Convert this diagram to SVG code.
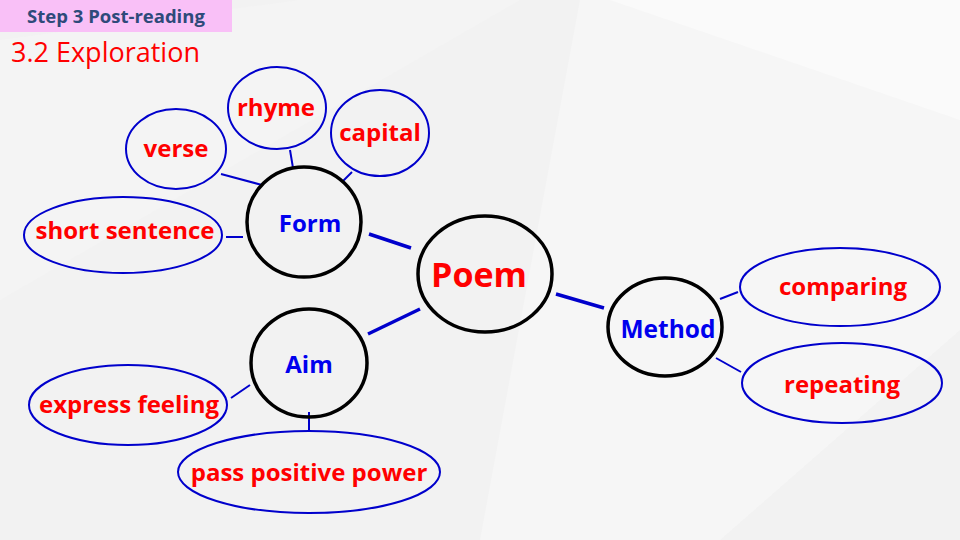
<svg xmlns="http://www.w3.org/2000/svg" width="960" height="540" viewBox="0 0 960 540">
<style>
.bg{fill:#f2f2f2}
.hub{fill:none;stroke:#000;stroke-width:3.5}
.leaf{fill:none;stroke:#0000cc;stroke-width:2}
.lbl{font-family:"Open Sans","Noto Sans","Liberation Sans",sans-serif;font-weight:bold;text-anchor:middle}
.red{fill:#ff0000}
.blue{fill:#0000ee}
.main{stroke:#0000cc;stroke-width:3.5}
.thin{stroke:#0000cc;stroke-width:2}
</style>
<rect class="bg" width="960" height="540"/>
<polygon points="580,0 960,0 960,330 720,540 480,540" fill="#f6f6f6"/>
<polygon points="610,0 960,0 960,120" fill="#fafafa"/>
<polygon points="0,40 300,0 520,0 0,300" fill="#f4f4f4"/>
<rect x="0" y="0" width="232" height="32" fill="#f9c0f7"/>
<text x="116" y="23" font-family="Open Sans,Noto Sans,sans-serif" font-weight="bold" font-size="18.5" fill="#2e4a7a" text-anchor="middle">Step 3 Post-reading</text>
<text x="11" y="62" font-family="Open Sans,Noto Sans,sans-serif" font-size="27" fill="#ff0000">3.2 Exploration</text>
<g id="connectors">
<line class="main" x1="369" y1="234" x2="411" y2="248"/>
<line class="main" x1="368" y1="334" x2="420" y2="309"/>
<line class="main" x1="556" y1="294" x2="604" y2="308"/>
<line class="thin" x1="221" y1="174" x2="262" y2="185"/>
<line class="thin" x1="290" y1="150" x2="293" y2="168"/>
<line class="thin" x1="352" y1="172" x2="343" y2="181"/>
<line class="thin" x1="226" y1="237" x2="243" y2="237"/>
<line class="thin" x1="231" y1="398" x2="250" y2="385"/>
<line class="thin" x1="309" y1="412" x2="309" y2="430"/>
<line class="thin" x1="720" y1="299" x2="738" y2="292"/>
<line class="thin" x1="716" y1="358" x2="741" y2="372"/>
</g>
<g id="poem"><ellipse class="hub" cx="485" cy="274" rx="67" ry="58"/><text class="lbl red" x="479" y="287" font-size="34">Poem</text></g>
<g id="form"><ellipse class="hub" cx="304" cy="222" rx="57" ry="55"/><text class="lbl blue" x="310" y="232" font-size="24">Form</text></g>
<g id="aim"><ellipse class="hub" cx="309" cy="363" rx="58" ry="54"/><text class="lbl blue" x="309" y="373" font-size="24">Aim</text></g>
<g id="method"><ellipse class="hub" cx="665" cy="327" rx="57" ry="49"/><text class="lbl blue" x="668" y="338" font-size="24.5">Method</text></g>
<g id="verse"><ellipse class="leaf" cx="176" cy="149" rx="50" ry="40"/><text class="lbl red" x="176" y="157" font-size="24">verse</text></g>
<g id="rhyme"><ellipse class="leaf" cx="277" cy="108" rx="49" ry="41"/><text class="lbl red" x="276" y="116" font-size="24">rhyme</text></g>
<g id="capital"><ellipse class="leaf" cx="380" cy="133" rx="49" ry="43"/><text class="lbl red" x="380" y="141" font-size="24">capital</text></g>
<g id="short-sentence"><ellipse class="leaf" cx="123" cy="235" rx="99" ry="38"/><text class="lbl red" x="125" y="239" font-size="24">short sentence</text></g>
<g id="comparing"><ellipse class="leaf" cx="840" cy="287" rx="100" ry="39"/><text class="lbl red" x="843" y="295" font-size="24">comparing</text></g>
<g id="repeating"><ellipse class="leaf" cx="842" cy="383" rx="100" ry="40"/><text class="lbl red" x="842" y="393" font-size="24">repeating</text></g>
<g id="express-feeling"><ellipse class="leaf" cx="128" cy="405" rx="99" ry="40"/><text class="lbl red" x="129" y="413" font-size="24">express feeling</text></g>
<g id="pass-positive-power"><ellipse class="leaf" cx="309" cy="472" rx="131" ry="41"/><text class="lbl red" x="309" y="481" font-size="24">pass positive power</text></g>
</svg>
